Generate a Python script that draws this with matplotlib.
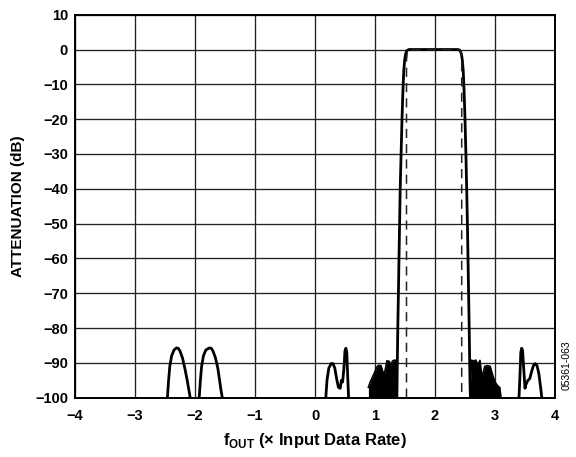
import matplotlib
matplotlib.use("Agg")
import matplotlib.pyplot as plt

plt.rcParams['font.family'] = ['Liberation Sans', 'DejaVu Sans']
plt.rcParams['mathtext.fontset'] = 'custom'
plt.rcParams['mathtext.rm'] = 'Liberation Sans:bold'
plt.rcParams['mathtext.bf'] = 'Liberation Sans:bold'

# ---- data ----
# left image lobes around -2
lobe1_x = [-2.46, -2.44, -2.42, -2.39, -2.35, -2.31, -2.28, -2.25, -2.21, -2.17, -2.13, -2.10, -2.08]
lobe1_y = [-100, -95, -91, -88, -86.3, -85.7, -85.8, -86.6, -88.5, -91.5, -95, -98, -100]
lobe2_x = [-1.93, -1.91, -1.89, -1.86, -1.82, -1.76, -1.73, -1.70, -1.66, -1.62, -1.59, -1.565, -1.545]
lobe2_y = [-100, -95, -91, -88, -86.3, -85.7, -85.8, -86.6, -88.5, -91.5, -95, -98, -100]

# spurs around 0.2 - 0.6
spur_l_x = [0.18, 0.20, 0.23, 0.27, 0.30, 0.33, 0.36, 0.39, 0.42, 0.44, 0.46, 0.48, 0.50, 0.515, 0.53, 0.545, 0.56]
spur_l_y = [-100, -95, -91.5, -90.2, -90.2, -91.5, -94.5, -97, -97.3, -95, -95.5, -92, -86.5, -85.8, -87, -94, -100]

# spurs around 3.4 - 3.8
spur_r_x = [3.40, 3.415, 3.43, 3.445, 3.46, 3.48, 3.50, 3.52, 3.55, 3.58, 3.61, 3.64, 3.67, 3.70, 3.73, 3.76, 3.78]
spur_r_y = [-100, -94, -87, -85.8, -86.5, -92, -97.3, -96, -95, -94.5, -92.5, -90.8, -90.2, -90.8, -93, -97, -100]

# dense stopband regions (upper envelope)
dense_l_x = [0.89, 0.92, 0.96, 1.00, 1.03, 1.06, 1.10, 1.13, 1.15, 1.17, 1.20, 1.24, 1.26, 1.29, 1.31, 1.34, 1.36, 1.37]
dense_l_y = [-97, -95.5, -94, -92.5, -91.2, -90.7, -90.8, -92.5, -93.5, -92, -89.4, -89.6, -91, -89.5, -89.3, -89.2, -91, -100]
dense_r_x = [2.58, 2.61, 2.64, 2.68, 2.71, 2.75, 2.78, 2.80, 2.83, 2.87, 2.92, 2.96, 3.00, 3.04, 3.08, 3.10]
dense_r_y = [-100, -89.2, -89.5, -89.2, -90.5, -89.3, -94, -93, -91, -90.8, -91, -93.5, -95.5, -96.5, -97.1, -100]

# passband (solid)
pass_x = [1.365, 1.372, 1.38, 1.39, 1.40, 1.41, 1.42, 1.435, 1.45, 1.465, 1.48, 1.495, 1.51, 1.53, 1.567,
          2.383, 2.42, 2.44, 2.455, 2.47, 2.485, 2.50, 2.515, 2.528, 2.54, 2.55, 2.56, 2.57, 2.578, 2.583, 2.59]
pass_y = [-100, -90, -80, -70, -60, -50, -40, -30, -20, -12, -6, -3, -1.3, -0.3, 0,
          0, -0.3, -1.3, -3, -6, -12, -20, -30, -40, -50, -60, -70, -80, -90, -95, -100]

# ideal passband (dashed)
ideal_x = [1.525, 1.525, 1.54, 1.565, 2.41, 2.435, 2.445, 2.445]
ideal_y = [-100, -3, -0.6, 0, 0, -0.6, -3, -100]

xticks = [-4, -3, -2, -1, 0, 1, 2, 3, 4]
yticks = [10, 0, -10, -20, -30, -40, -50, -60, -70, -80, -90, -100]

fig = plt.figure(figsize=(5.76, 4.57), dpi=100)
ax = fig.add_axes([75/576, 1 - 397.7/457, 480/576, 383/457])

ax.set_xlim(-4, 4)
ax.set_ylim(-100, 10)
ax.set_xticks(xticks)
ax.set_yticks(yticks)
ax.grid(True, color='#222222', linewidth=0.95)
ax.set_axisbelow(True)
ax.tick_params(length=0, labelsize=10.5)
ax.tick_params(axis='x', pad=8)
ax.tick_params(axis='y', pad=5)
for lab in ax.get_xticklabels() + ax.get_yticklabels():
    lab.set_fontweight('bold')
for s in ax.spines.values():
    s.set_linewidth(1.4)
    s.set_color('black')

lw = 2.0
for xs, ys in [(lobe1_x, lobe1_y), (lobe2_x, lobe2_y), (spur_l_x, spur_l_y), (spur_r_x, spur_r_y)]:
    ax.plot(xs, ys, color='black', linewidth=lw, solid_joinstyle='round', clip_on=True)

for xs, ys in [(dense_l_x, dense_l_y), (dense_r_x, dense_r_y)]:
    ax.fill_between(xs, ys, -100, color='black', linewidth=0)
    ax.plot(xs, ys, color='black', linewidth=1.2)

ax.plot(pass_x, pass_y, color='black', linewidth=lw, solid_joinstyle='round')
ax.plot(ideal_x, ideal_y, color='#222222', linewidth=1.1, dashes=(6, 4))

ax.set_ylabel('ATTENUATION (dB)', fontsize=11, fontweight='bold', labelpad=7)
ax.set_xlabel(r'f$_{\mathrm{OUT}}$ (× Input Data Rate)', fontsize=12, fontweight='bold', labelpad=6)

fig.text(567/576, 1 - 365/457, '05361-063', rotation=90, fontsize=7.5, ha='center', va='center')

fig.savefig('out.png', dpi=100)
